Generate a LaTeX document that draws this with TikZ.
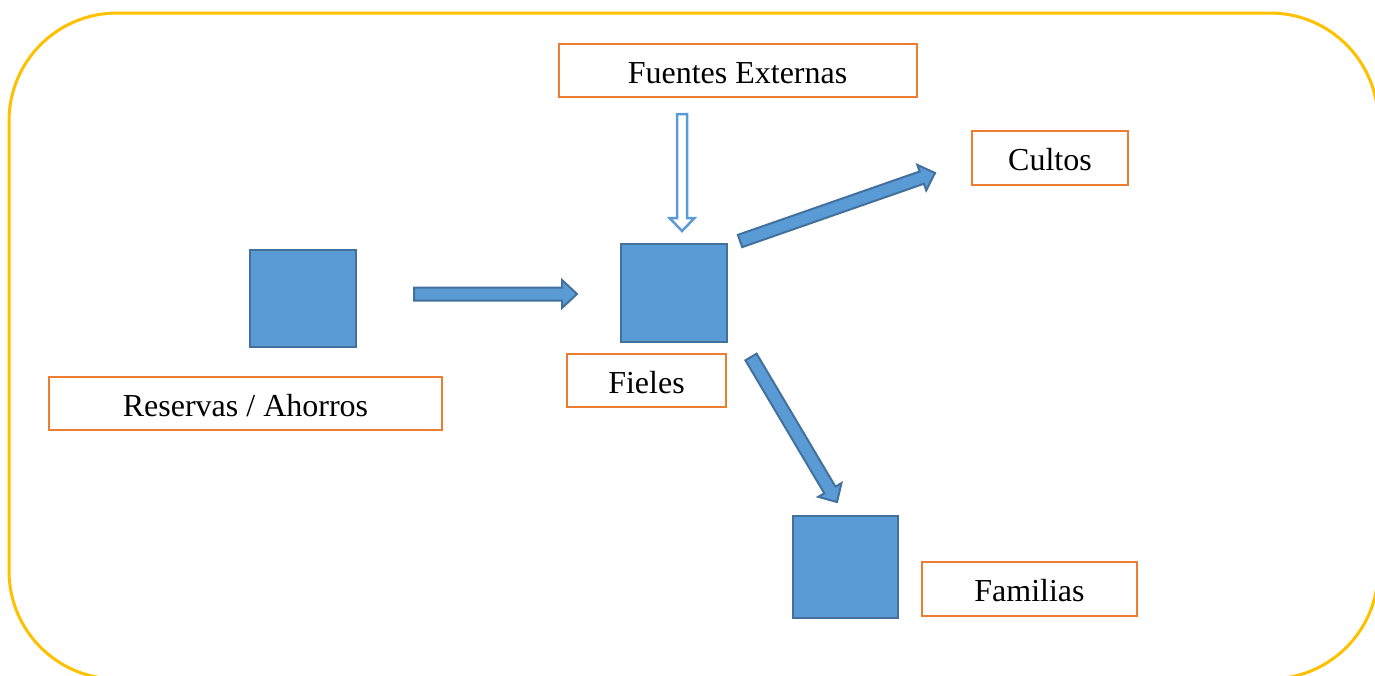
\documentclass[tikz,border=0pt]{standalone}
\usepackage{fontspec}
\setmainfont{Liberation Serif}
\usetikzlibrary{calc}
\definecolor{frameyellow}{HTML}{FFC000}
\definecolor{boxorange}{HTML}{ED7D31}
\definecolor{sqfill}{HTML}{5B9BD5}
\definecolor{sqedge}{HTML}{41719C}
\tikzset{
  labelbox/.style={draw=boxorange, line width=1pt, fill=white, inner sep=0pt,
    font=\fontsize{16}{19}\selectfont, text=black, text height=12.5pt, text depth=0pt},
  bluesq/.style={draw=sqedge, line width=1pt, fill=sqfill, inner sep=0pt},
  fatarrow/.style={draw=sqedge, line width=1pt, fill=sqfill, line join=miter},
  hollowarrow/.style={draw=sqfill, line width=1.25pt, fill=white, line join=miter},
}
% #1 style, #2 start, #3 end, #4 half shaft, #5 half head, #6 head length
\newcommand\blockarrow[6]{%
  \coordinate (tmpC) at ($(#3)!#6!(#2)$);
  \draw[#1] ($(#2)!#4!90:(#3)$) -- ($(tmpC)!#4!90:(#3)$) -- ($(tmpC)!#5!90:(#3)$)
    -- (#3) -- ($(tmpC)!#5!-90:(#3)$) -- ($(tmpC)!#4!-90:(#3)$)
    -- ($(#2)!#4!-90:(#3)$) -- cycle;}
\begin{document}
\begin{tikzpicture}[x=0.5pt,y=-0.5pt]
\useasboundingbox (0,0) rectangle (1375,675);
\clip (0,0) rectangle (1375,675);
\draw[frameyellow, line width=1.5pt, rounded corners=54pt] (9,13) rectangle (1378,679);

% squares
\node[bluesq, minimum width=53pt, minimum height=48.5pt] (sqA) at (303,298.5) {};
\node[bluesq, minimum width=53pt, minimum height=49pt] (sqB) at (674,293) {};
\node[bluesq, minimum width=52.5pt, minimum height=51pt] (sqC) at (845.5,567) {};

% label boxes
\node[labelbox, minimum width=179pt, minimum height=26.5pt] (fuentes) at (737.5,70.5) {Fuentes Externas};
\node[labelbox, minimum width=78pt, minimum height=27pt] (cultos) at (1050,158) {Cultos};
\node[labelbox, minimum width=196.5pt, minimum height=26.5pt] (reservas) at (245.5,403.5) {Reservas / Ahorros};
\node[labelbox, minimum width=79.5pt, minimum height=26.5pt] (fieles) at (646.5,380.5) {Fieles};
\node[labelbox, minimum width=107.5pt, minimum height=27pt] (familias) at (1029.5,589) {Familias};

% arrow end points
\coordinate (a1s) at (414,294);
\coordinate (a1e) at (577,294);
\coordinate (a2s) at (682,114);
\coordinate (a2e) at (682,231);
\coordinate (a3s) at (740,241);
\coordinate (a3e) at (935,173);
\coordinate (a4s) at (751,357);
\coordinate (a4e) at (837,502);

\blockarrow{fatarrow}{a1s}{a1e}{3.25pt}{7pt}{7.5pt}
\blockarrow{hollowarrow}{a2s}{a2e}{2.5pt}{6.25pt}{6.5pt}
\blockarrow{fatarrow}{a3s}{a3e}{3.25pt}{6.75pt}{7pt}
\blockarrow{fatarrow}{a4s}{a4e}{3.25pt}{6.75pt}{7pt}
\end{tikzpicture}
\end{document}
